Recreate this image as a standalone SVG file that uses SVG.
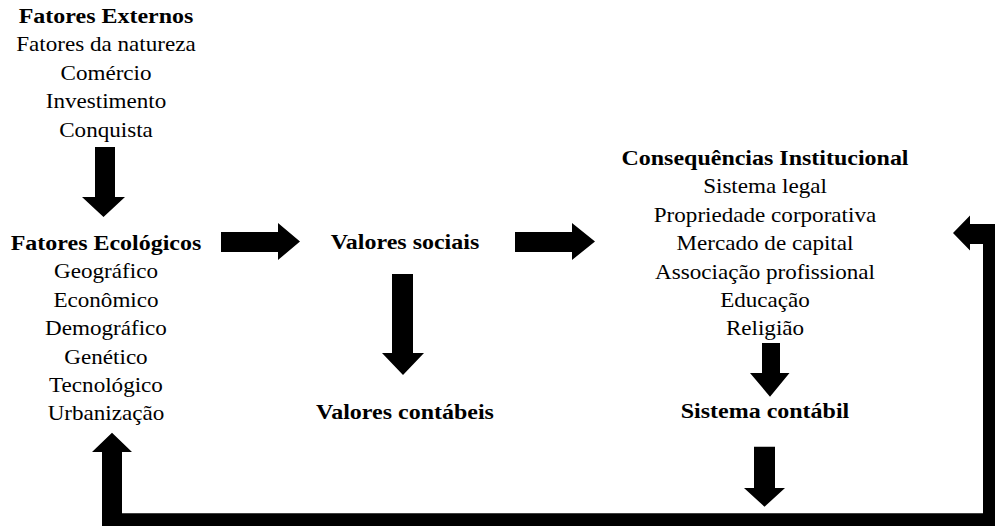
<svg xmlns="http://www.w3.org/2000/svg" width="995" height="526" viewBox="0 0 995 526">
<style>
text{font-family:"Liberation Serif","Times New Roman",serif;fill:#000;text-anchor:middle;font-size:21px}
text.b{font-weight:bold;font-size:21.8px}
.arrow{fill:#000;stroke:none}
</style>
<rect width="995" height="526" fill="#fff"/>
<g id="fatores-externos">
<g transform="translate(106,0) scale(1.1,1)">
<text class="b" x="0" y="23">Fatores Externos</text>
<text x="0" y="51.5">Fatores da natureza</text>
<text x="0" y="80">Comércio</text>
<text x="0" y="108.5">Investimento</text>
<text x="0" y="137">Conquista</text>
</g>
</g>
<g id="fatores-ecologicos">
<g transform="translate(106,0) scale(1.1,1)">
<text class="b" x="0" y="250">Fatores Ecológicos</text>
<text x="0" y="278.4">Geográfico</text>
<text x="0" y="306.8">Econômico</text>
<text x="0" y="335.2">Demográfico</text>
<text x="0" y="363.6">Genético</text>
<text x="0" y="392">Tecnológico</text>
<text x="0" y="420.4">Urbanização</text>
</g>
</g>
<g id="valores-sociais">
<g transform="translate(405,0) scale(1.1,1)">
<text class="b" x="0" y="249.5">Valores sociais</text>
</g>
</g>
<g id="valores-contabeis">
<g transform="translate(405,0) scale(1.1,1)">
<text class="b" x="0" y="419.5">Valores contábeis</text>
</g>
</g>
<g id="consequencias-institucional">
<g transform="translate(765,0) scale(1.1,1)">
<text class="b" x="0" y="165">Consequências Institucional</text>
<text x="0" y="193.4">Sistema legal</text>
<text x="0" y="221.8">Propriedade corporativa</text>
<text x="0" y="250.2">Mercado de capital</text>
<text x="0" y="278.6">Associação profissional</text>
<text x="0" y="307">Educação</text>
<text x="0" y="335.4">Religião</text>
</g>
</g>
<g id="sistema-contabil">
<g transform="translate(765,0) scale(1.1,1)">
<text class="b" x="0" y="418.5">Sistema contábil</text>
</g>
</g>
<g id="connectors">
<polygon class="arrow" points="95,147 115,147 115,197 125,197 103.5,217 82,197 95,197"/>
<polygon class="arrow" points="221,232 278,232 278,223 300,241.5 278,260 278,252 221,252"/>
<polygon class="arrow" points="515,232 572,232 572,223 595,241.5 572,260 572,252 515,252"/>
<polygon class="arrow" points="392,274 413,274 413,353 424,353 403,375 382,353 392,353"/>
<polygon class="arrow" points="762,343 780,343 780,373 789.5,373 770,396.7 750,373 762,373"/>
<polygon class="arrow" points="754,446.7 775,446.7 775,488 785,488 764.5,506.7 744,488 754,488"/>
<polygon class="arrow" points="112,432.7 132,452 122,452 122,513.3 983,513.3 983,244 970,244 970,250.5 953,233 970,215.5 970,224 1003,224 1003,533 102,533 102,452 92,452"/>
</g>
</svg>
